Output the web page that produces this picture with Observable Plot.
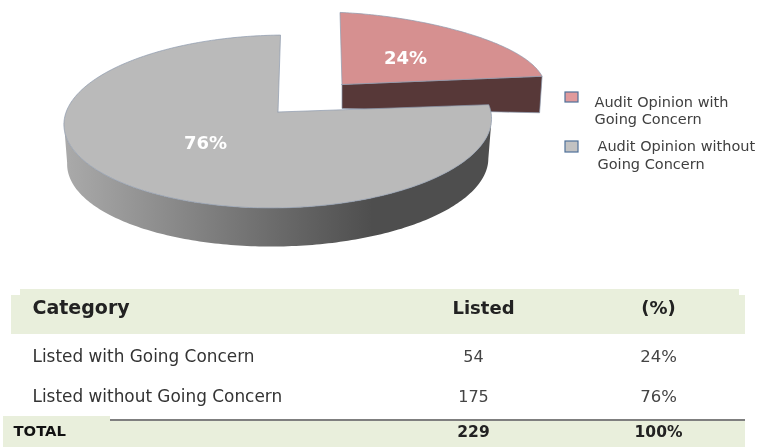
<!DOCTYPE html>
<html><head><meta charset="utf-8">
<style>html,body{margin:0;padding:0;background:#fff}svg{display:block}</style>
<script src="https://cdn.jsdelivr.net/npm/d3@7"></script>
<script src="https://cdn.jsdelivr.net/npm/@observablehq/plot@0.6"></script>
</head><body><script>
// data
const sliceNames = ["Audit Opinion with Going Concern", "Audit Opinion without Going Concern"];
const sliceShares = [24, 76];
const sliceLabels = ["24%", "76%"];
const tableHeaders = ["Category", "Listed", "(%)"];
const rowNames = ["Listed with Going Concern", "Listed without Going Concern"];
const rowListed = ["54", "175"];
const rowPercent = ["24%", "76%"];
const totalRow = ["TOTAL", "229", "100%"];

// layout
const W = 759, H = 447, FONT = "DejaVu Sans";
const K = 0.11, DEG = 3.6;
const mainPie = {ax: 277.5, ay: 111.5, R: 212.5, S: 85.4, skew: 2.5, tilt: 2, sag: 0};
const wedgePie = {ax: 341.5, ay: 84, R: 202, S: 80, skew: -2, tilt: 4, sag: 6};
function project(p, deg, dy = 0, s = 1) {
  const t = deg * Math.PI / 180, u = Math.sin(t), v = Math.cos(t), d = 1 + K * v;
  return {x: p.ax + s * p.R * u / d + p.skew * v, y: p.ay - s * p.S * v / d - p.tilt * u + p.sag * Math.sin(2 * t) + dy};
}
function arc(p, a0, a1, dy = 0, s = 1) {
  const n = Math.max(2, Math.ceil(Math.abs(a1 - a0))), out = [];
  for (let i = 0; i <= n; i++) out.push(project(p, a0 + (a1 - a0) * i / n, dy, s));
  return out;
}
const edge = sliceShares[0] * DEG;
const closed = a => [...a, a[0]];
const wedgeTop = closed([{x: wedgePie.ax, y: wedgePie.ay}, ...arc(wedgePie, 0, edge)]);
const tip = project(wedgePie, edge);
const wedgeSide = closed([{x: wedgePie.ax, y: wedgePie.ay}, tip, {x: tip.x - 2.5, y: tip.y + 36.5}, {x: wedgePie.ax, y: wedgePie.ay + 24}]);
const mainTop = closed([{x: mainPie.ax, y: mainPie.ay}, ...arc(mainPie, edge, 360)]);
const mainSide = closed([...arc(mainPie, 96, 264), ...arc(mainPie, 264, 96, 40, 0.985)]);

const defs = () => {
  const g = d3.create("svg:defs");
  const lg = g.append("linearGradient").attr("id", "side").attr("gradientUnits", "userSpaceOnUse")
    .attr("x1", 64).attr("x2", 372).attr("y1", 0).attr("y2", 0);
  lg.append("stop").attr("offset", 0).attr("stop-color", "#aaaaaa");
  lg.append("stop").attr("offset", 1).attr("stop-color", "#4e4e4e");
  return g.node();
};
const face = (pts, fill, stroke = "#8d9aae") => Plot.line(pts, {x: "x", y: "y", fill, stroke, strokeWidth: 0.7, curve: "linear"});
const txt = (rows, o) => Plot.text(rows, {x: "x", y: "y", text: "t", fontFamily: FONT, lineAnchor: "middle", ...o});

const band = "#e9efdc";
const bands = [
  {x1: 20, x2: 739, y1: 289, y2: 296},
  {x1: 11, x2: 745, y1: 295, y2: 334},
  {x1: 3, x2: 110, y1: 416, y2: 447},
  {x1: 110, x2: 745, y1: 420, y2: 447}
];
const colListed = 473, colPct = 658, rowY = [356.5, 396.5];

const plot = Plot.plot({
  width: W, height: H, margin: 0,
  x: {domain: [0, W], range: [0, W], axis: null},
  y: {domain: [0, H], range: [0, H], axis: null},
  style: {background: "#fff", filter: "blur(0.4px)"},
  marks: [
    defs,
    face(wedgeSide, "#573838"),
    face(wedgeTop, "#d69090"),
    face(mainSide, "url(#side)", "none"),
    face(mainTop, "#bababa"),
    txt([{x: 405, y: 58, t: sliceLabels[0]}, {x: 205, y: 143, t: sliceLabels[1]}], {fill: "#fff", fontWeight: "bold", fontSize: 18}),
    // legend
    Plot.rect([{x1: 565, x2: 578, y1: 92, y2: 102, f: "#e09a9c"}, {x1: 565, x2: 578, y1: 141, y2: 152, f: "#c2c2c2"}],
      {x1: "x1", x2: "x2", y1: "y1", y2: "y2", fill: "f", stroke: "#4f7199", strokeWidth: 1.2}),
    txt([
      {x: 594, y: 101.5, t: "Audit Opinion with"},
      {x: 594, y: 119, t: "Going Concern"},
      {x: 597, y: 146, t: "Audit Opinion without"},
      {x: 597, y: 164, t: "Going Concern"}
    ], {textAnchor: "start", fontSize: 14.5, fill: "#404040"}),
    // table
    Plot.rect(bands, {x1: "x1", x2: "x2", y1: "y1", y2: "y2", fill: band}),
    Plot.ruleY([419.5], {x1: 110, x2: 745, stroke: "#7f7f7f", strokeWidth: 2}),
    txt([{x: 32, y: 307.5, t: tableHeaders[0]}], {textAnchor: "start", fontWeight: "bold", fontSize: 19, fill: "#222"}),
    txt([{x: 483, y: 307.5, t: tableHeaders[1]}, {x: colPct, y: 307.5, t: tableHeaders[2]}], {fontWeight: "bold", fontSize: 18, fill: "#222"}),
    txt(rowNames.map((t, i) => ({x: 32, y: rowY[i], t})), {textAnchor: "start", fontSize: 16.9, fill: "#333"}),
    txt(rowListed.map((t, i) => ({x: colListed, y: rowY[i], t})), {fontSize: 16, fill: "#444"}),
    txt(rowPercent.map((t, i) => ({x: colPct, y: rowY[i], t})), {fontSize: 16.5, fill: "#444"}),
    txt([{x: 13, y: 431, t: totalRow[0]}], {textAnchor: "start", fontWeight: "bold", fontSize: 14.8, fill: "#111"}),
    txt([{x: colListed, y: 432, t: totalRow[1]}, {x: colPct, y: 432, t: totalRow[2]}], {fontWeight: "bold", fontSize: 15.5, fill: "#222"})
  ]
});
document.body.append(plot);
</script></body></html>
